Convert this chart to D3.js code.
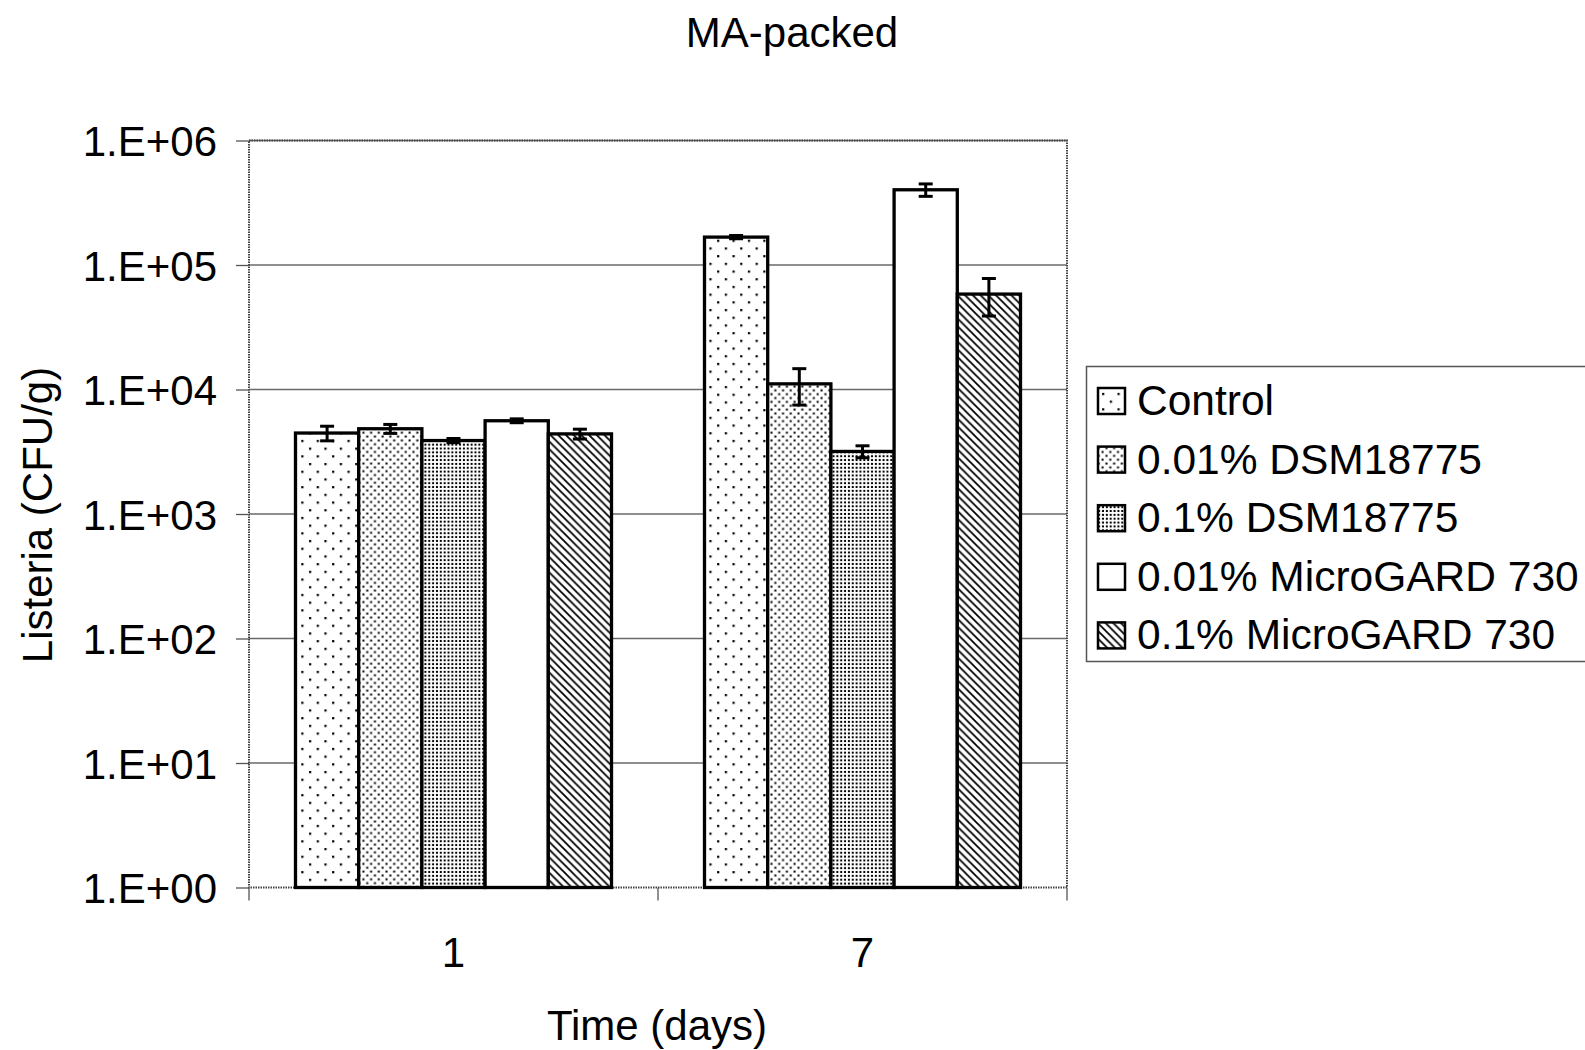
<!DOCTYPE html>
<html>
<head>
<meta charset="utf-8">
<script src="https://cdn.jsdelivr.net/npm/d3@7"></script>
<style>
    body { margin: 0; background: #fff; }
    text { font-family: "Liberation Sans", Arial, sans-serif; fill: #000; }
</style>
</head>
<body>
<svg id="chart" width="1585" height="1050"></svg>
<script>
const categories = ["1", "7"];
const seriesNames = [
    "Control",
    "0.01% DSM18775",
    "0.1% DSM18775",
    "0.01% MicroGARD 730",
    "0.1% MicroGARD 730",
];
// CFU/g, one value per series, for each day
const day1Values = [4470, 4840, 3890, 5610, 4400];
const day1Errors = [600, 400, 150, 200, 400];
const day7Values = [167500, 11100, 3180, 402000, 58400];
const day7Errors = [5000, 3600, 350, 46000, 19500];
const yTicks = [1, 10, 100, 1000, 10000, 100000, 1000000];
const patternIds = ["p-control", "p-dsm-low", "p-dsm-high", "p-white", "p-diag"];

const plot = { left: 249, right: 1067, top: 140.5, bottom: 887.5 };
const svg = d3.select("#chart");

function setUpPatterns() {
    const defs = svg.append("defs");

    // sparse staggered dots
    let p = defs.append("pattern").attr("id", "p-control")
        .attr("patternUnits", "userSpaceOnUse").attr("width", 15.4).attr("height", 15.4);
    p.append("rect").attr("width", 15.4).attr("height", 15.4).attr("fill", "#fff");
    p.append("rect").attr("x", 1).attr("y", 1).attr("width", 2.2).attr("height", 2.2).attr("fill", "#000");
    p.append("rect").attr("x", 8.7).attr("y", 8.7).attr("width", 2.2).attr("height", 2.2).attr("fill", "#000");

    // medium dots
    p = defs.append("pattern").attr("id", "p-dsm-low")
        .attr("patternUnits", "userSpaceOnUse").attr("width", 7.7).attr("height", 7.7);
    p.append("rect").attr("width", 7.7).attr("height", 7.7).attr("fill", "#fff");
    p.append("rect").attr("x", 0.5).attr("y", 0.5).attr("width", 2).attr("height", 2).attr("fill", "#000");
    p.append("rect").attr("x", 4.35).attr("y", 4.35).attr("width", 2).attr("height", 2).attr("fill", "#000");

    // dense dot grid
    p = defs.append("pattern").attr("id", "p-dsm-high")
        .attr("patternUnits", "userSpaceOnUse").attr("width", 3.85).attr("height", 3.85);
    p.append("rect").attr("width", 3.85).attr("height", 3.85).attr("fill", "#fff");
    p.append("rect").attr("x", 0.9).attr("y", 0.9).attr("width", 2).attr("height", 2).attr("fill", "#000");

    p = defs.append("pattern").attr("id", "p-white")
        .attr("patternUnits", "userSpaceOnUse").attr("width", 4).attr("height", 4);
    p.append("rect").attr("width", 4).attr("height", 4).attr("fill", "#fff");

    // downward diagonal stripes
    const s = 7.7;
    p = defs.append("pattern").attr("id", "p-diag")
        .attr("patternUnits", "userSpaceOnUse").attr("width", s).attr("height", s);
    p.append("rect").attr("width", s).attr("height", s).attr("fill", "#fff");
    p.append("path")
        .attr("d", `M-2,-2 L${s + 2},${s + 2} M${-s - 2},-2 L2,${s + 2} M${s - 2},-2 L${2 * s + 2},${s + 2}`)
        .attr("stroke", "#000").attr("stroke-width", 1.8);
}

function drawAxes(x, y) {
    // gridlines
    svg.append("g").selectAll("line")
        .data(yTicks.slice(1))
        .join("line")
        .attr("x1", plot.left).attr("x2", plot.right)
        .attr("y1", d => y(d)).attr("y2", d => y(d))
        .attr("stroke", "#6a6a6a").attr("stroke-width", 1.3);

    // plot area border (hatched look)
    svg.append("rect")
        .attr("x", plot.left).attr("y", plot.top)
        .attr("width", plot.right - plot.left).attr("height", plot.bottom - plot.top)
        .attr("fill", "none").attr("stroke", "#444")
        .attr("stroke-width", 2).attr("stroke-dasharray", "1.5,1");

    const yAxis = svg.append("g")
        .attr("transform", `translate(${plot.left},0)`)
        .call(d3.axisLeft(y).tickValues(yTicks)
            .tickFormat(d => "1.E+" + String(Math.round(Math.log10(d))).padStart(2, "0"))
            .tickSize(13).tickPadding(19));
    yAxis.select(".domain").remove();
    yAxis.selectAll(".tick line").attr("stroke", "#555").attr("stroke-width", 1.3);
    yAxis.selectAll(".tick text").attr("font-size", 42).attr("dy", "0.36em");

    const xAxis = svg.append("g")
        .attr("transform", `translate(0,${plot.bottom})`)
        .call(d3.axisBottom(x).tickSize(0).tickPadding(50));
    xAxis.select(".domain").remove();
    xAxis.selectAll(".tick text").attr("font-size", 42).attr("dy", "0.71em");

    // category boundary ticks
    const bounds = [x.range()[0]].concat(categories.map(c => x(c) + x.bandwidth()));
    svg.append("g").selectAll("line")
        .data(bounds)
        .join("line")
        .attr("x1", d => d).attr("x2", d => d)
        .attr("y1", plot.bottom).attr("y2", plot.bottom + 13)
        .attr("stroke", "#555").attr("stroke-width", 1.3);
}

function drawBars(x, xSeries, y) {
    const rows = [];
    categories.forEach((cat, ci) => {
        const vals = ci === 0 ? day1Values : day7Values;
        const errs = ci === 0 ? day1Errors : day7Errors;
        seriesNames.forEach((name, si) => {
            rows.push({ cat, name, si, value: vals[si], err: errs[si] });
        });
    });

    svg.append("g").selectAll("rect")
        .data(rows)
        .join("rect")
        .attr("x", d => x(d.cat) + xSeries(d.name))
        .attr("y", d => y(d.value))
        .attr("width", xSeries.bandwidth())
        .attr("height", d => y(1) - y(d.value))
        .attr("fill", d => `url(#${patternIds[d.si]})`)
        .attr("stroke", "#000").attr("stroke-width", 3.3);

    const errG = svg.append("g").attr("stroke", "#000").attr("stroke-width", 3);
    const cx = d => x(d.cat) + xSeries(d.name) + xSeries.bandwidth() / 2;
    errG.selectAll("line.v")
        .data(rows)
        .join("line").attr("class", "v")
        .attr("x1", cx).attr("x2", cx)
        .attr("y1", d => y(d.value + d.err)).attr("y2", d => y(d.value - d.err));
    for (const end of [1, -1]) {
        errG.selectAll(`line.c${end}`)
            .data(rows)
            .join("line").attr("class", `c${end}`)
            .attr("x1", d => cx(d) - 7).attr("x2", d => cx(d) + 7)
            .attr("y1", d => y(d.value + end * d.err)).attr("y2", d => y(d.value + end * d.err));
    }
}

function drawLegend() {
    const lg = svg.append("g");
    lg.append("rect")
        .attr("x", 1086.5).attr("y", 366.5).attr("width", 520).attr("height", 295)
        .attr("fill", "#fff").attr("stroke", "#555").attr("stroke-width", 1.5);
    const items = lg.selectAll("g.item")
        .data(seriesNames)
        .join("g").attr("class", "item")
        .attr("transform", (d, i) => `translate(0,${415 + i * 58.6})`);
    items.append("rect")
        .attr("x", 1098).attr("y", -27).attr("width", 27).attr("height", 26)
        .attr("fill", (d, i) => `url(#${patternIds[i]})`)
        .attr("stroke", "#000").attr("stroke-width", 2.5);
    items.append("text")
        .attr("x", 1137).attr("y", 0)
        .attr("font-size", 42.5)
        .text(d => d);
}

setUpPatterns();

const x = d3.scaleBand().domain(categories).range([plot.left, plot.right]).padding(0);
const gap = 46.5;
const xSeries = d3.scaleBand().domain(seriesNames).range([gap, x.bandwidth() - gap]).padding(0);
const y = d3.scaleLog().domain([1, 1e6]).range([plot.bottom, plot.top]);

drawAxes(x, y);
drawBars(x, xSeries, y);
drawLegend();

svg.append("text")
    .attr("x", 792).attr("y", 47)
    .attr("text-anchor", "middle").attr("font-size", 42)
    .text("MA-packed");

svg.append("text")
    .attr("x", 657).attr("y", 1040)
    .attr("text-anchor", "middle").attr("font-size", 42)
    .text("Time (days)");

svg.append("text")
    .attr("transform", "translate(52,515) rotate(-90)")
    .attr("text-anchor", "middle").attr("font-size", 42)
    .text("Listeria (CFU/g)");
</script>
</body>
</html>
